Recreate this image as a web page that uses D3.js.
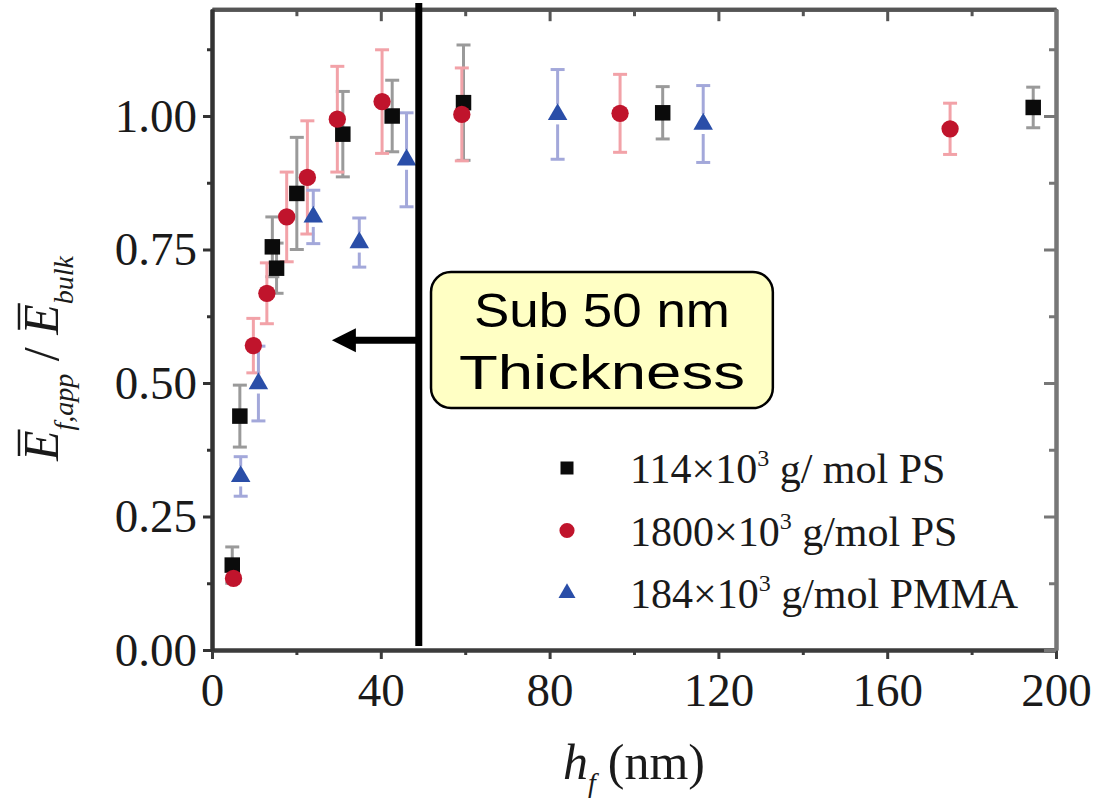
<!DOCTYPE html>
<html>
<head>
<meta charset="utf-8">
<script src="https://cdn.jsdelivr.net/npm/d3@7"></script>
<style>
  html, body { margin: 0; padding: 0; background: #fff; }
  svg { display: block; }
</style>
</head>
<body>
<svg id="chart" width="1096" height="806"></svg>
<script>
// Film thickness h_f (nm), normalised modulus and its uncertainty for each polymer
const ps114X   = [4.8, 6.6, 14.3, 15.3, 20.1, 31.0, 42.7, 59.6, 106.8, 194.6];
const ps114Y   = [0.159, 0.438, 0.755, 0.715, 0.855, 0.966, 1.000, 1.025, 1.006, 1.016];
const ps114Err = [0.034, 0.058, 0.056, 0.047, 0.105, 0.080, 0.067, 0.108, 0.049, 0.038];

const ps1800X   = [5.1, 9.8, 13.0, 17.7, 22.6, 29.7, 40.3, 59.2, 96.7, 174.9];
const ps1800Y   = [0.134, 0.570, 0.668, 0.811, 0.885, 0.994, 1.027, 1.003, 1.005, 0.976];
const ps1800Err = [0, 0.051, 0.057, 0.084, 0.106, 0.099, 0.097, 0.087, 0.073, 0.048];

const pmmaX   = [6.8, 11.0, 24.0, 34.9, 46.1, 81.9, 116.4];
const pmmaY   = [0.325, 0.499, 0.811, 0.763, 0.918, 1.003, 0.985];
const pmmaErr = [0.037, 0.070, 0.050, 0.046, 0.088, 0.084, 0.072];

// Legend text: main part, superscript, tail
const legendMain = ["114\u00d710", "1800\u00d710", "184\u00d710"];
const legendSup  = ["3", "3", "3"];
const legendTail = [" g/ mol PS", " g/mol PS", " g/mol PMMA"];

const xTicks      = [0, 40, 80, 120, 160, 200];
const xMinorTicks = [20, 60, 100, 140, 180];
const yTicks      = [0, 0.25, 0.5, 0.75, 1.0];
const yMinorTicks = [0.125, 0.375, 0.625, 0.875, 1.125];

const cutoffThickness = 49;          // dividing line for the sub-50 nm regime
const annotationLines = ["Sub 50 nm", "Thickness"];

const svg = d3.select("#chart");
const serif = "'Liberation Serif', 'Times New Roman', serif";
const sans  = "'Liberation Sans', Arial, sans-serif";

const x = d3.scaleLinear().domain([0, 200]).range([212, 1056]);
const y = d3.scaleLinear().domain([0, 1.2]).range([650, 9.2]);

// ---- axes / frame ----
function styleAxis(g, color, width) {
  g.select(".domain").attr("stroke", color).attr("stroke-width", width);
  g.selectAll(".tick line").attr("stroke", color).attr("stroke-width", 3);
  g.selectAll(".tick text")
    .attr("fill", "#1a1a1a")
    .attr("font-family", serif)
    .attr("font-size", 47);
}

// bottom
svg.append("g").attr("transform", `translate(0,${y(0)})`)
  .call(d3.axisBottom(x).tickValues(xMinorTicks).tickSize(5).tickSizeOuter(0).tickFormat(""))
  .call(g => styleAxis(g, "#3c3c3c", 4));
svg.append("g").attr("transform", `translate(0,${y(0)})`)
  .call(d3.axisBottom(x).tickValues(xTicks).tickSize(9).tickPadding(14).tickSizeOuter(0).tickFormat(d3.format("d")))
  .call(g => styleAxis(g, "#3c3c3c", 4));

// top (inward ticks)
svg.append("g").attr("transform", `translate(0,${y(1.2)})`)
  .call(d3.axisTop(x).tickValues(xMinorTicks).tickSize(-7).tickSizeOuter(0).tickFormat(""))
  .call(g => styleAxis(g, "#555", 4));
svg.append("g").attr("transform", `translate(0,${y(1.2)})`)
  .call(d3.axisTop(x).tickValues(xTicks).tickSize(-12).tickSizeOuter(0).tickFormat(""))
  .call(g => styleAxis(g, "#555", 4));

// right (inward ticks)
svg.append("g").attr("transform", `translate(${x(200)},0)`)
  .call(d3.axisRight(y).tickValues(yMinorTicks).tickSize(-7).tickSizeOuter(0).tickFormat(""))
  .call(g => styleAxis(g, "#777", 4));
svg.append("g").attr("transform", `translate(${x(200)},0)`)
  .call(d3.axisRight(y).tickValues(yTicks).tickSize(-12).tickSizeOuter(0).tickFormat(""))
  .call(g => styleAxis(g, "#777", 4));

// left
svg.append("g").attr("transform", `translate(${x(0)},0)`)
  .call(d3.axisLeft(y).tickValues(yMinorTicks).tickSize(5).tickSizeOuter(0).tickFormat(""))
  .call(g => styleAxis(g, "#333", 4));
svg.append("g").attr("transform", `translate(${x(0)},0)`)
  .call(d3.axisLeft(y).tickValues(yTicks).tickSize(9).tickPadding(6).tickSizeOuter(0).tickFormat(d3.format(".2f")))
  .call(g => styleAxis(g, "#333", 4));

// ---- series ----
const series = [
  { xs: ps114X,  ys: ps114Y,  errs: ps114Err,  type: d3.symbolSquare,   size: 240, legendSize: 169,
    fill: "#0b0b0b", bar: "#9a9a9a", gapUp: 0,  gapDown: 0 },
  { xs: ps1800X, ys: ps1800Y, errs: ps1800Err, type: d3.symbolCircle,   size: 235, legendSize: 180,
    fill: "#c0142c", bar: "#f2a2a8", gapUp: 0,  gapDown: 0 },
  { xs: pmmaX,   ys: pmmaY,   errs: pmmaErr,   type: d3.symbolTriangle, size: 165, legendSize: 125,
    fill: "#2a4ea8", bar: "#a3a8da", gapUp: 10, gapDown: 10 }
];

const barLayer = svg.append("g");
const markLayer = svg.append("g");

series.forEach(s => {
  const pts = s.xs.map((v, i) => ({ x: v, y: s.ys[i], e: s.errs[i] }));
  const gb = barLayer.append("g").attr("stroke", s.bar).attr("stroke-width", 3).attr("fill", "none");
  pts.filter(p => p.e > 0).forEach(p => {
    const cx = x(p.x), cy = y(p.y), top = y(p.y + p.e), bot = y(p.y - p.e);
    gb.append("line").attr("x1", cx).attr("x2", cx).attr("y1", top).attr("y2", cy - s.gapUp);
    gb.append("line").attr("x1", cx).attr("x2", cx).attr("y1", cy + s.gapDown).attr("y2", bot);
    gb.append("line").attr("x1", cx - 7).attr("x2", cx + 7).attr("y1", top).attr("y2", top);
    gb.append("line").attr("x1", cx - 7).attr("x2", cx + 7).attr("y1", bot).attr("y2", bot);
  });
  markLayer.append("g").selectAll("path").data(pts).join("path")
    .attr("d", d3.symbol().type(s.type).size(s.size))
    .attr("transform", p => `translate(${x(p.x)},${y(p.y)})`)
    .attr("fill", s.fill);
});

// ---- sub-50 nm divider, arrow and label box ----
svg.append("line")
  .attr("x1", x(cutoffThickness)).attr("x2", x(cutoffThickness))
  .attr("y1", 3).attr("y2", 646)
  .attr("stroke", "#000").attr("stroke-width", 7);

const arrowY = y(0.58);
const tipX = x(28.4);
svg.append("line")
  .attr("x1", x(cutoffThickness)).attr("x2", tipX + 20)
  .attr("y1", arrowY).attr("y2", arrowY)
  .attr("stroke", "#000").attr("stroke-width", 7);
svg.append("path")
  .attr("d", `M${tipX},${arrowY} L${tipX + 24},${arrowY - 12} L${tipX + 24},${arrowY + 12} Z`)
  .attr("fill", "#000");

const boxX0 = x(51.9), boxX1 = x(132.9), boxY0 = y(0.708), boxY1 = y(0.453);
svg.append("rect")
  .attr("x", boxX0).attr("y", boxY0)
  .attr("width", boxX1 - boxX0).attr("height", boxY1 - boxY0)
  .attr("rx", 20).attr("ry", 20)
  .attr("fill", "#ffffc4").attr("stroke", "#000").attr("stroke-width", 2.5);

const boxCx = (boxX0 + boxX1) / 2;
const lineLengths = [256, 286];
svg.append("g").selectAll("text").data(annotationLines).join("text")
  .attr("x", boxCx)
  .attr("y", (d, i) => boxY0 + 55 + i * 62)
  .attr("text-anchor", "middle")
  .attr("font-family", sans).attr("font-size", 49).attr("fill", "#000")
  .attr("textLength", (d, i) => lineLengths[i])
  .attr("lengthAdjust", "spacingAndGlyphs")
  .text(d => d);

// ---- legend ----
const legend = svg.append("g");
series.forEach((s, i) => {
  const rowY = 468 + i * 62.5;
  legend.append("path")
    .attr("d", d3.symbol().type(s.type).size(s.legendSize))
    .attr("transform", `translate(567,${rowY})`)
    .attr("fill", s.fill);
  const t = legend.append("text")
    .attr("x", 630).attr("y", rowY + 15)
    .attr("font-family", serif).attr("font-size", 42).attr("fill", "#1a1a1a");
  t.append("tspan").text(legendMain[i]);
  t.append("tspan").attr("font-size", 24).attr("dy", -17).text(legendSup[i]);
  t.append("tspan").attr("dy", 17).text(legendTail[i]);
});

// ---- axis titles ----
const xt = svg.append("text")
  .attr("x", x(100)).attr("y", 779)
  .attr("text-anchor", "middle")
  .attr("font-family", serif).attr("font-size", 50).attr("fill", "#1a1a1a");
xt.append("tspan").attr("font-style", "italic").text("h");
xt.append("tspan").attr("font-style", "italic").attr("font-size", 28).attr("dy", 13).text("f");
xt.append("tspan").attr("dx", 12).attr("dy", -13).text("(nm)");

const yg = svg.append("g").attr("transform", "translate(58,461) rotate(-90)");
const yt = yg.append("text")
  .attr("font-family", serif).attr("font-size", 50).attr("font-style", "italic").attr("fill", "#1a1a1a");
yt.append("tspan").text("E");
yt.append("tspan").attr("font-size", 28).attr("dy", 15).text("f,app");
yt.append("tspan").attr("font-style", "normal").attr("dy", -15).text(" / ");
yt.append("tspan").text("E");
yt.append("tspan").attr("font-size", 28).attr("dy", 15).text("bulk");

// overbars on both moduli
const node = yt.node();
[0, 9].forEach(ci => {
  const ext = node.getExtentOfChar(ci);
  yg.append("line")
    .attr("x1", ext.x + 5).attr("x2", ext.x + ext.width + 1)
    .attr("y1", -39).attr("y2", -39)
    .attr("stroke", "#1a1a1a").attr("stroke-width", 2.5);
});
</script>
</body>
</html>
